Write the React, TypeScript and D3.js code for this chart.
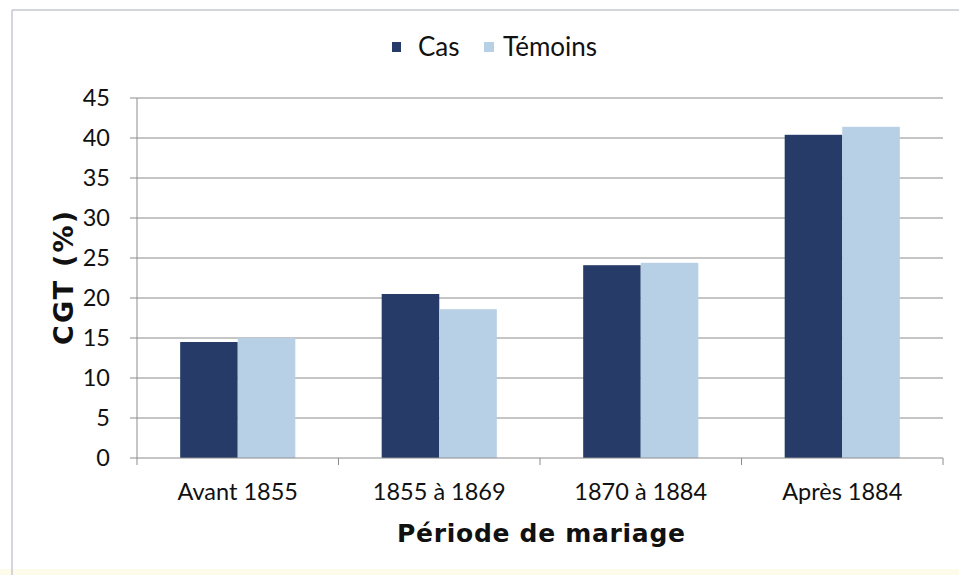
import React from 'react'
import * as d3 from 'd3'

const periods = ['Avant 1855', '1855 à 1869', '1870 à 1884', 'Après 1884']
const cas = [14.5, 20.5, 24.1, 40.4]
const temoins = [15, 18.6, 24.4, 41.4]
const yTicks = [0, 5, 10, 15, 20, 25, 30, 35, 40, 45]
const seriesNames = ['Cas', 'Témoins']

const colors = ['#263b68', '#b8d0e5']
const labelFont = 'Lato, "Open Sans", sans-serif'
const titleFont = '"DejaVu Sans", Verdana, sans-serif'

const App = () => {
  const width = 959
  const height = 575
  const left = 137
  const right = 943
  const top = 98
  const bottom = 458

  const x = d3.scaleBand().domain(periods).range([left, right]).paddingInner(0).paddingOuter(0)
  const y = d3.scaleLinear().domain([0, 45]).range([bottom, top])
  // two bars take 2/3.5 of each category (gap width 150%)
  const barW = x.bandwidth() / 3.5
  const inner = d3.scaleBand().domain(seriesNames).range([0, barW * 2])

  const series = [cas, temoins]

  return (
    <svg width={width} height={height} style={{ position: 'absolute', left: 0, top: 0 }}>
      <rect x={0} y={0} width={width} height={height} fill='#fff' />
      <rect x={0} y={569} width={width} height={6} fill='#fdfbea' />
      <line x1={12} x2={width} y1={10} y2={10} stroke='#c4c8cf' strokeWidth={1.5} />
      <line x1={12} x2={12} y1={10} y2={height} stroke='#c4c8cf' strokeWidth={1.5} />

      {yTicks.map(t => (
        <g key={t}>
          {t > 0 && <line x1={left} x2={right} y1={y(t)} y2={y(t)} stroke='#8c8c8c' strokeWidth={1} />}
          <line x1={left - 7} x2={left} y1={y(t)} y2={y(t)} stroke='#8c8c8c' />
          <text x={110} y={y(t)} dy='0.36em' textAnchor='end' fontSize={23.5} fontFamily={labelFont} fill='#111'>{t}</text>
        </g>
      ))}

      {series.map((vals, si) =>
        periods.map((p, i) => (
          <rect key={si + '-' + i}
            x={x(p)! + (x.bandwidth() - barW * 2) / 2 + inner(seriesNames[si])!}
            y={y(vals[i])}
            width={inner.bandwidth()}
            height={y(0) - y(vals[i])}
            fill={colors[si]} />
        ))
      )}

      <line x1={left} x2={left} y1={top} y2={bottom} stroke='#8c8c8c' />
      <line x1={left} x2={right} y1={bottom} y2={bottom} stroke='#8c8c8c' />
      {[...periods.map(p => x(p)!), right].map((tx, i) => (
        <line key={i} x1={tx} x2={tx} y1={bottom} y2={bottom + 7} stroke='#8c8c8c' />
      ))}

      {periods.map(p => (
        <text key={p} x={x(p)! + x.bandwidth() / 2} y={500} textAnchor='middle' fontSize={23.5} fontFamily={labelFont} fill='#111'>{p}</text>
      ))}

      <text x={541} y={542} textAnchor='middle' fontSize={25} fontWeight='bold' fontFamily={titleFont} fill='#111'
        textLength={288} lengthAdjust='spacing'>Période de mariage</text>
      <text transform={`translate(73, 278) rotate(-90)`} textAnchor='middle' fontSize={27} fontWeight='bold' fontFamily={titleFont} fill='#111'
        textLength={134} lengthAdjust='spacing'>CGT (%)</text>

      <g>
        <rect x={392} y={42} width={9} height={10} fill={colors[0]} />
        <text x={418} y={56} fontSize={26} fontFamily={labelFont} fill='#111'>Cas</text>
        <rect x={484} y={42} width={10} height={10} fill={colors[1]} />
        <text x={503} y={56} fontSize={26} fontFamily={labelFont} fill='#111'>Témoins</text>
      </g>
    </svg>
  )
}

export default App
